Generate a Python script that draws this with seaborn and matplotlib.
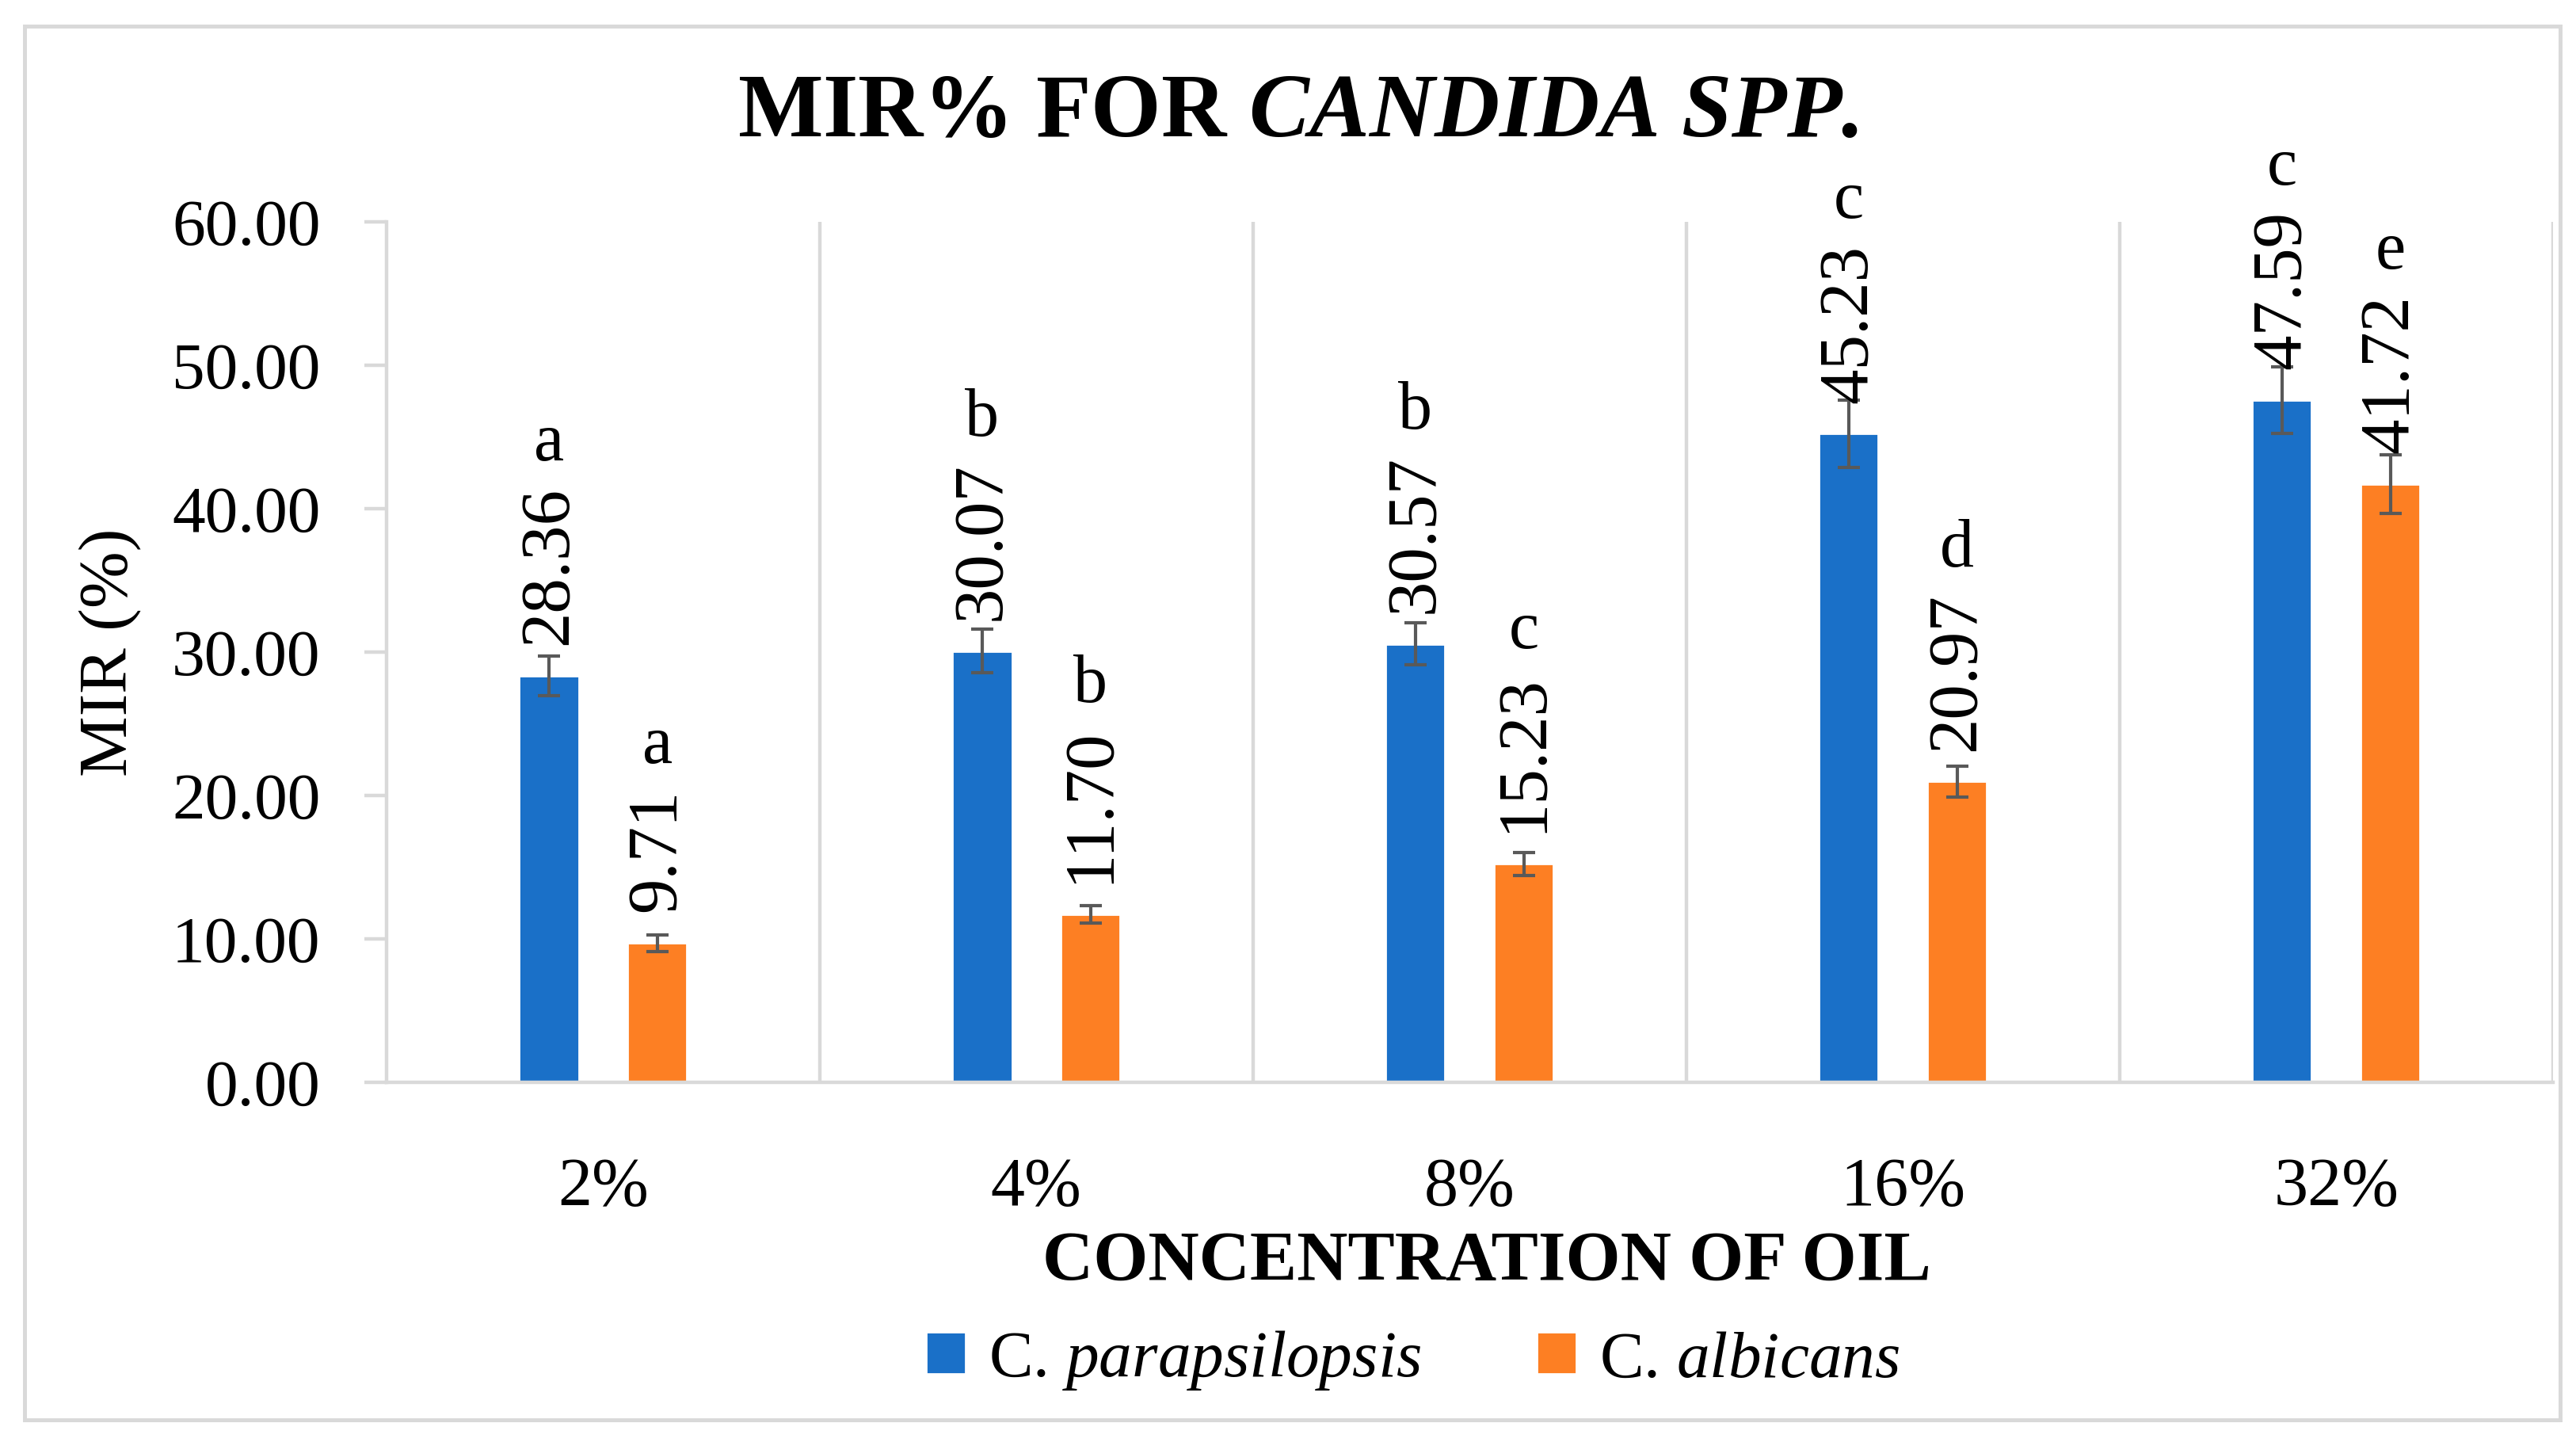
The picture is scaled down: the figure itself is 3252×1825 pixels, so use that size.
import matplotlib
matplotlib.use("Agg")
import matplotlib.pyplot as plt
import seaborn as sns
import pandas as pd
from matplotlib.patches import Rectangle

# data
concentrations = ["2%", "4%", "8%", "16%", "32%"]
species = ["C. parapsilopsis", "C. albicans"]
legend_labels = ["C. $\\it{parapsilopsis}$", "C. $\\it{albicans}$"]
mir_parapsilopsis = [28.36, 30.07, 30.57, 45.23, 47.59]
mir_albicans = [9.71, 11.70, 15.23, 20.97, 41.72]
err_parapsilopsis = [1.38, 1.51, 1.46, 2.36, 2.32]
err_albicans = [0.59, 0.62, 0.82, 1.08, 2.05]
letters_parapsilopsis = ["a", "b", "b", "c", "c"]
letters_albicans = ["a", "b", "c", "d", "e"]
yticks = [0, 10, 20, 30, 40, 50, 60]

colors = ["#1A70C8", "#FD7F23"]
grid_color = "#D9D9D9"
err_color = "#595959"

sns.set_theme(style="white")
plt.rcParams["font.family"] = ["Liberation Serif", "DejaVu Serif"]
plt.rcParams["mathtext.fontset"] = "custom"
plt.rcParams["mathtext.rm"] = "Liberation Serif"
plt.rcParams["mathtext.it"] = "Liberation Serif:italic"
plt.rcParams["mathtext.bf"] = "Liberation Serif:bold:italic"
plt.rcParams["text.color"] = "black"

df = pd.DataFrame({
    "Concentration": concentrations * 2,
    "Species": [species[0]] * len(concentrations) + [species[1]] * len(concentrations),
    "MIR": mir_parapsilopsis + mir_albicans,
})

fig = plt.figure(figsize=(16.26, 9.125), dpi=200)
ax = fig.add_axes([0.150, 0.2515, 0.841, 0.595])

sns.barplot(data=df, x="Concentration", y="MIR", hue="Species",
            order=concentrations, hue_order=species, palette=colors,
            saturation=1, width=0.5, gap=0.45, errorbar=None, ax=ax)

ax.set_xlim(-0.5, len(concentrations) - 0.5)
ax.set_ylim(0, 60)
ax.set_yticks(yticks)
ax.set_yticklabels([f"{v:.2f}" for v in yticks])

# category separators like in Excel
ax.set_xticks([i + 0.5 for i in range(len(concentrations))], minor=True)
ax.grid(False)
ax.grid(which="minor", axis="x", color=grid_color, lw=1.6)
ax.set_axisbelow(True)

for side in ["top", "right"]:
    ax.spines[side].set_visible(False)
for side in ["left", "bottom"]:
    ax.spines[side].set_color(grid_color)
    ax.spines[side].set_linewidth(1.6)

ax.tick_params(axis="y", which="major", left=True, length=10, width=1.6,
               color=grid_color, pad=20, labelsize=30, labelcolor="black")
ax.tick_params(axis="x", which="major", length=0, pad=34, labelsize=31,
               labelcolor="black")
ax.tick_params(which="minor", length=0)

ax.set_ylabel("MIR (%)", fontsize=31, labelpad=14, color="black")
ax.set_xlabel("CONCENTRATION OF OIL", fontsize=32, fontweight="bold",
              color="black", va="center")
ax.xaxis.set_label_coords(0.508, -0.209)

# error bars and value labels
value_labels = []
for cont, errs, letters in zip(ax.containers,
                               [err_parapsilopsis, err_albicans],
                               [letters_parapsilopsis, letters_albicans]):
    xs = [b.get_x() + b.get_width() / 2 for b in cont]
    ys = [b.get_height() for b in cont]
    ax.errorbar(xs, ys, yerr=errs, fmt="none", ecolor=err_color,
                elinewidth=1.5, capsize=5, capthick=1.5)
    for x, y, letter in zip(xs, ys, letters):
        t = ax.annotate(f"{y:.2f}", (x, y), xytext=(0, 14),
                        textcoords="offset points", rotation=90,
                        ha="center", va="bottom", fontsize=32,
                        annotation_clip=False)
        value_labels.append((t, x, letter))

# significance letters sit just above each rotated value label
fig.canvas.draw()
renderer = fig.canvas.get_renderer()
inv = ax.transData.inverted()
for t, x, letter in value_labels:
    bb = t.get_window_extent(renderer)
    y_top = inv.transform((0, bb.y1))[1]
    ax.annotate(letter, (x, y_top), xytext=(0, 12),
                textcoords="offset points", ha="center", va="baseline",
                fontsize=31, annotation_clip=False)

# legend below the axis title
handles = ax.get_legend().legend_handles
ax.get_legend().remove()
fig.legend(handles, legend_labels, loc="center", bbox_to_anchor=(0.5485, 0.059),
           ncol=2, frameon=False, fontsize=30, handlelength=0.6,
           handleheight=0.6, handletextpad=0.35, columnspacing=1.75)

fig.text(0.504, 0.9058, "MIR% FOR $\\mathbf{CANDIDA\\ SPP.}$",
         ha="center", va="baseline", fontsize=41, fontweight="bold")

# chart border
fig.add_artist(Rectangle((0.0095, 0.0181), 0.9843, 0.9638,
                         transform=fig.transFigure, fill=False,
                         edgecolor=grid_color, lw=1.8))

fig.savefig("out.png", dpi=200)
